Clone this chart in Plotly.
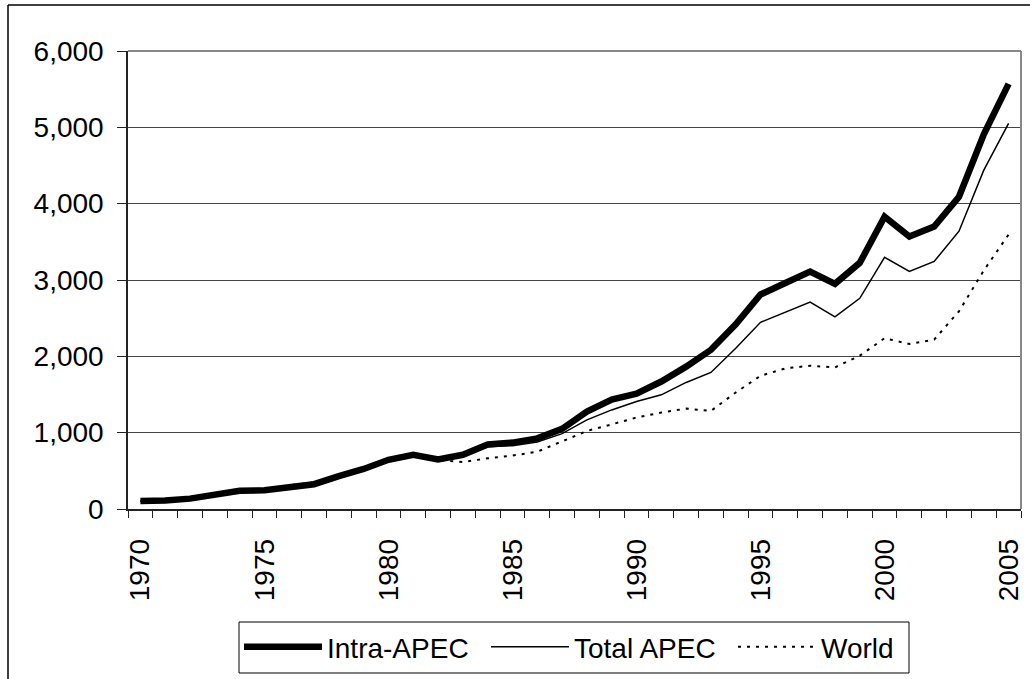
import plotly.graph_objects as go

years = list(range(1970, 2006))
intra_apec = [106, 110, 136, 185, 238, 245, 295, 325, 430, 525, 645, 710, 650, 710, 845, 870,
              925, 1050, 1275, 1435, 1510, 1670, 1865, 2085, 2420, 2810, 2960, 3110, 2950, 3225,
              3830, 3570, 3700, 4090, 4910, 5570]
total_apec = [100, 105, 130, 180, 232, 240, 290, 320, 425, 520, 630, 700, 645, 695, 815, 830,
              877, 987, 1167, 1298, 1408, 1496, 1658, 1789, 2105, 2446, 2578, 2710, 2516, 2760,
              3298, 3112, 3243, 3639, 4439, 5052]
world = [105, 110, 140, 190, 260, 265, 310, 350, 430, 520, 625, 690, 640, 616, 664, 700,
         750, 890, 1022, 1109, 1198, 1263, 1315, 1285, 1526, 1745, 1842, 1877, 1855, 2009,
         2237, 2162, 2219, 2590, 3125, 3596]
label_years = [1970, 1975, 1980, 1985, 1990, 1995, 2000, 2005]
y_ticks = [0, 1000, 2000, 3000, 4000, 5000, 6000]

FONT = "Liberation Sans, Arial, sans-serif"
FS = 28

fig = go.Figure()
fig.add_trace(go.Scatter(x=years, y=intra_apec, mode="lines", name="Intra-APEC",
                         line=dict(color="black", width=6.5)))
fig.add_trace(go.Scatter(x=years, y=total_apec, mode="lines", name="Total APEC",
                         line=dict(color="black", width=1.5)))
fig.add_trace(go.Scatter(x=years, y=world, mode="lines", name="World",
                         line=dict(color="black", width=2, dash="3px,6px")))

L, R, T, B = 128, 9, 51, 170
W, H = 1030, 679
pw, ph = W - L - R, H - T - B

def px2paper_x(px):
    return (px - L) / pw

def px2paper_y(py):
    return (H - B - py) / ph

fig.update_layout(
    width=W, height=H,
    margin=dict(l=L, r=R, t=T, b=B, pad=0, autoexpand=False),
    paper_bgcolor="white", plot_bgcolor="white",
    font=dict(family=FONT, size=FS, color="black"),
    showlegend=True,
    legend=dict(orientation="h", x=px2paper_x(239), xanchor="left",
                y=px2paper_y(622), yanchor="top",
                borderwidth=0, bgcolor="rgba(0,0,0,0)",
                itemwidth=78, entrywidth=154, entrywidthmode="pixels",
                font=dict(size=FS, family=FONT)),
    xaxis=dict(range=[1969.5, 2005.5], tickvals=label_years,
               ticktext=[str(y) for y in label_years], tickangle=-90,
               ticks="outside", ticklen=17, tickcolor="rgba(0,0,0,0)",
               showgrid=False, zeroline=False,
               showline=True, linecolor="#222", linewidth=1.5,
               minor=dict(tickvals=[y - 0.5 for y in years] + [2005.5], ticks="outside",
                          ticklen=7, tickcolor="#222", tickwidth=1, showgrid=False),
               tickfont=dict(size=FS, family=FONT)),
    yaxis=dict(range=[0, 6000], tickvals=y_ticks, tickformat=",",
               ticks="outside", ticklen=9, tickcolor="#222", ticklabelstandoff=8,
               showgrid=True, gridcolor="#444", gridwidth=1, zeroline=False,
               showline=True, linecolor="#222", linewidth=1.5,
               tickfont=dict(size=FS, family=FONT)),
    shapes=[
        dict(type="line", xref="paper", yref="paper", x0=1, x1=1, y0=0, y1=1,
             line=dict(color="#888", width=2)),
        dict(type="line", xref="paper", yref="paper", x0=0, x1=1, y0=1, y1=1,
             line=dict(color="#888", width=2)),
        dict(type="line", xref="paper", yref="paper",
             x0=px2paper_x(8), x1=px2paper_x(8), y0=px2paper_y(5), y1=px2paper_y(800),
             line=dict(color="black", width=1.5)),
        dict(type="line", xref="paper", yref="paper",
             x0=px2paper_x(8), x1=px2paper_x(1100), y0=px2paper_y(5), y1=px2paper_y(5),
             line=dict(color="black", width=1.5)),
        dict(type="rect", xref="paper", yref="paper",
             x0=px2paper_x(239), x1=px2paper_x(909), y0=px2paper_y(673), y1=px2paper_y(622),
             line=dict(color="black", width=1), fillcolor="rgba(0,0,0,0)"),
    ],
)

fig.write_html("out.html", config={"displayModeBar": False},
               post_script="document.body.style.margin='0px';")
